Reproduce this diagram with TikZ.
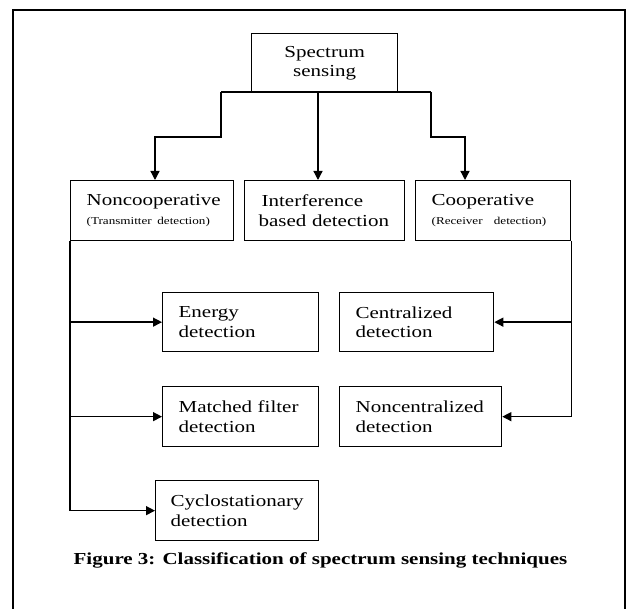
\documentclass[tikz,border=0pt]{standalone}
\usepackage{fontspec}
\setmainfont{Liberation Serif}[FakeStretch=1.25]
\usetikzlibrary{arrows.meta}

\begin{document}
\begin{tikzpicture}
  [x=1pt,y=-1pt,
   box/.style={draw,line width=1.3pt,rectangle,anchor=north west,
     inner xsep=16pt,inner ysep=0pt,text width=#1,align=left,minimum height=60pt,
     font=\fontsize{16.8}{19.5}\selectfont},
   line/.style={line width=1.3pt},
   arr/.style={line width=1.3pt,-{Triangle[length=9pt,width=9pt]}}]
  \useasboundingbox (0,0) rectangle (626,609);
  \draw[line width=2pt] (13,609) -- (13,10) -- (625,10) -- (625,609);

  \node[box=114,align=center,minimum height=59pt] (top) at (251,33) {Spectrum\\sensing};

  \node[box=131] (nc) at (70,180)  {Noncooperative\\\mbox{\fontsize{10.5}{13}\selectfont(Transmitter\ detection)}};
  \node[box=132,inner xsep=14pt] (ib) at (244,180) {\hspace*{3pt}Interference\\based detection};
  \node[box=123] (co) at (415,180) {Cooperative\\\mbox{\fontsize{10.5}{13}\selectfont(Receiver\ \ detection)}};

  \node[box=124,minimum height=59pt] (en)  at (162,292) {Energy\\detection};
  \node[box=122,minimum height=59pt] (ce)  at (339,292) {Centralized\\detection};
  \node[box=124] (mf)  at (162,386) {Matched filter\\detection};
  \node[box=130] (nce) at (339,386) {Noncentralized\\detection};
  \node[box=133,inner xsep=15pt] (cy) at (155,480) {Cyclostationary\\detection};

  \node[font=\bfseries\fontsize{16.8}{19.5}\selectfont] (cap) at (320.5,560)
    {Figure 3: Classification of spectrum sensing techniques};

  \coordinate (tl) at (221,92);
  \coordinate (tm) at (318,92);
  \coordinate (tr) at (431,92);
  \coordinate (lb) at (155,137);
  \coordinate (rb) at (465,137);

  \draw[line] (tl) -- (tr);
  \draw[arr] (tl) |- (lb) -- (lb |- nc.north);
  \draw[arr] (tm) -- (tm |- ib.north);
  \draw[arr] (tr) |- (rb) -- (rb |- co.north);

  \foreach \to in {en, mf, cy}
    \draw[arr] (nc.south west) |- (\to.west);
  \foreach \to in {ce, nce}
    \draw[arr] (co.south east) |- (\to.east);

\end{tikzpicture}
\end{document}
